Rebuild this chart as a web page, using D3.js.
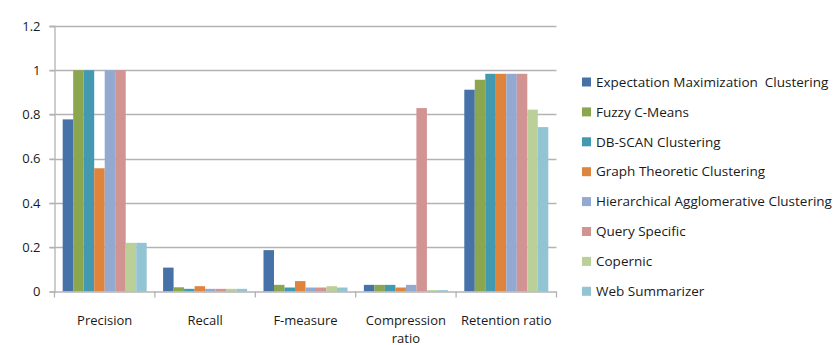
<!DOCTYPE html>
<html>
<head>
<meta charset="utf-8">
<script src="https://cdn.jsdelivr.net/npm/d3@7"></script>
<style>
  html, body { margin: 0; padding: 0; background: #fff; }
  svg { display: block; font-family: "Open Sans", "Liberation Sans", sans-serif; }
</style>
</head>
<body>
<svg id="chart" width="840" height="345"></svg>
<script>
// Metrics on the x axis
const categories = ["Precision", "Recall", "F-measure", "Compression ratio", "Retention ratio"];

// Summarization methods (one bar per method in each metric group)
const seriesNames = [
  "Expectation Maximization  Clustering",
  "Fuzzy C-Means",
  "DB-SCAN Clustering",
  "Graph Theoretic Clustering",
  "Hierarchical Agglomerative Clustering",
  "Query Specific",
  "Copernic",
  "Web Summarizer"
];

const emValues        = [0.778, 0.108, 0.187, 0.030, 0.912];
const fuzzyValues     = [1.000, 0.019, 0.030, 0.030, 0.957];
const dbscanValues    = [1.000, 0.012, 0.018, 0.030, 0.984];
const graphValues     = [0.557, 0.024, 0.047, 0.018, 0.984];
const hierValues      = [1.000, 0.012, 0.018, 0.030, 0.984];
const querySpecValues = [1.000, 0.012, 0.018, 0.829, 0.984];
const copernicValues  = [0.220, 0.012, 0.024, 0.006, 0.822];
const webSumValues    = [0.220, 0.012, 0.018, 0.006, 0.743];

const yTicks = [0, 0.2, 0.4, 0.6, 0.8, 1, 1.2];

const seriesValues = [emValues, fuzzyValues, dbscanValues, graphValues,
                      hierValues, querySpecValues, copernicValues, webSumValues];

const colors = ["#4672A8", "#8AA64E", "#4399AF", "#DF843D",
                "#94A9CF", "#D29393", "#BAD098", "#93C4D4"];

const svg = d3.select("#chart");
const plot = { left: 54.5, right: 556.5, top: 26, bottom: 291.5 };

const x = d3.scaleBand()
  .domain(categories)
  .range([plot.left, plot.right])
  .paddingInner(0)
  .paddingOuter(0);

const x1 = d3.scaleBand()
  .domain(seriesNames)
  .range([0, x.bandwidth()])
  .paddingOuter(0.78)
  .paddingInner(0);

const y = d3.scaleLinear().domain([0, 1.2]).range([plot.bottom, plot.top]);

const gridColor = "#B3B3B3";
const textColor = "#1a1a1a";

// horizontal gridlines
svg.append("g")
  .selectAll("line")
  .data(yTicks.filter(d => d > 0))
  .join("line")
  .attr("x1", plot.left - 5)
  .attr("x2", plot.right)
  .attr("y1", d => Math.round(y(d)) + 0.5)
  .attr("y2", d => Math.round(y(d)) + 0.5)
  .attr("stroke", gridColor)
  .attr("stroke-width", 1.3);

// bars
const groups = svg.append("g")
  .selectAll("g")
  .data(categories)
  .join("g")
  .attr("transform", d => `translate(${x(d)},0)`);

groups.selectAll("rect")
  .data((c, ci) => seriesNames.map((s, si) => ({ s, si, v: seriesValues[si][ci] })))
  .join("rect")
  .attr("x", d => x1(d.s))
  .attr("width", x1.bandwidth())
  .attr("y", d => y(d.v))
  .attr("height", d => y(0) - y(d.v))
  .attr("fill", d => colors[d.si]);

// y axis
const yAxis = svg.append("g")
  .attr("transform", `translate(${plot.left},0)`)
  .call(d3.axisLeft(y).tickValues(yTicks).tickFormat(d3.format("")).tickSize(5).tickPadding(9));
yAxis.select(".domain").attr("stroke", gridColor).attr("stroke-width", 1.3);
yAxis.selectAll(".tick line").attr("stroke", gridColor).attr("stroke-width", 1.3);
yAxis.selectAll(".tick text")
  .attr("fill", textColor)
  .style("font-size", "13px")
  .style("font-family", "'Open Sans', sans-serif");

// x axis
const xAxisG = svg.append("g").attr("transform", `translate(0,${plot.bottom})`);
xAxisG.append("line")
  .attr("x1", plot.left).attr("x2", plot.right)
  .attr("y1", 0.5).attr("y2", 0.5)
  .attr("stroke", gridColor).attr("stroke-width", 1.3);
const boundaries = categories.map(c => x(c)).concat([plot.right]);
xAxisG.selectAll(".xtick")
  .data(boundaries)
  .join("line")
  .attr("class", "xtick")
  .attr("x1", d => d).attr("x2", d => d)
  .attr("y1", 0).attr("y2", 6)
  .attr("stroke", gridColor).attr("stroke-width", 1.3);

// category labels (wrap long ones onto two lines)
const labelLines = { "Compression ratio": ["Compression", "ratio"] };
const xl = xAxisG.selectAll(".xlabel")
  .data(categories)
  .join("text")
  .attr("class", "xlabel")
  .attr("text-anchor", "middle")
  .attr("fill", textColor)
  .style("font-size", "13px")
  .attr("transform", d => `translate(${x(d) + x.bandwidth() / 2},33)`);
xl.each(function (d) {
  const lines = labelLines[d] || [d];
  d3.select(this).selectAll("tspan")
    .data(lines)
    .join("tspan")
    .attr("x", 0)
    .attr("dy", (l, i) => i === 0 ? 0 : 18)
    .text(l => l);
});

// legend
const legend = svg.append("g").attr("transform", "translate(582,82)");
const item = legend.selectAll("g")
  .data(seriesNames)
  .join("g")
  .attr("transform", (d, i) => `translate(0,${i * 29.9})`);
item.append("rect")
  .attr("x", 0).attr("y", -4.5)
  .attr("width", 9).attr("height", 9)
  .attr("fill", (d, i) => colors[i]);
item.append("text")
  .attr("x", 14)
  .attr("dy", "0.35em")
  .attr("fill", textColor)
  .style("font-size", "13.5px")
  .style("white-space", "pre")
  .attr("xml:space", "preserve")
  .text(d => d);
</script>
</body>
</html>
